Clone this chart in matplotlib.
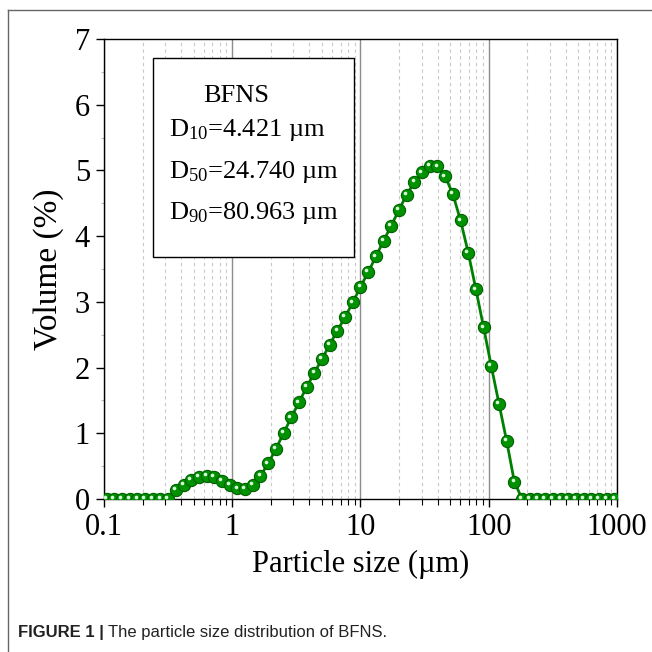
import numpy as np
import matplotlib.pyplot as plt
import matplotlib as mpl
from matplotlib import ticker, transforms
from matplotlib.lines import Line2D

mpl.rcParams["font.family"] = "serif"
mpl.rcParams["font.serif"] = ["Liberation Serif", "DejaVu Serif"]
mpl.rcParams["mathtext.fontset"] = "custom"
mpl.rcParams["mathtext.rm"] = "Liberation Serif"
mpl.rcParams["mathtext.it"] = "Liberation Serif:italic"

# particle size bins (µm) and volume fraction (%)
size_um = [0.1047, 0.1202, 0.1380, 0.1585, 0.1820, 0.2089, 0.2399, 0.2754, 0.3162,
           0.3631, 0.4169, 0.4786, 0.5495, 0.6310, 0.7244, 0.8318, 0.9550,
           1.096, 1.259, 1.445, 1.660, 1.905, 2.188, 2.512, 2.884, 3.311, 3.802,
           4.365, 5.012, 5.754, 6.607, 7.586, 8.710, 10.00, 11.48, 13.18, 15.14,
           17.38, 19.95, 22.91, 26.30, 30.20, 34.67, 39.81, 45.71, 52.48, 60.26,
           69.18, 79.43, 91.20, 104.7, 120.2, 138.0, 158.5, 182.0, 208.9, 239.9,
           275.4, 316.2, 363.1, 416.9, 478.6, 549.5, 631.0, 724.4, 831.8, 955.0]
volume = [0, 0, 0, 0, 0, 0, 0, 0, 0,
          0.14, 0.22, 0.29, 0.34, 0.355, 0.33, 0.27, 0.21,
          0.16, 0.15, 0.21, 0.35, 0.54, 0.76, 1.00, 1.24, 1.47, 1.70,
          1.92, 2.13, 2.35, 2.56, 2.77, 2.99, 3.23, 3.45, 3.69, 3.93,
          4.16, 4.40, 4.63, 4.82, 4.97, 5.07, 5.06, 4.91, 4.64, 4.24,
          3.75, 3.19, 2.61, 2.02, 1.45, 0.88, 0.26, 0, 0, 0,
          0, 0, 0, 0, 0, 0, 0, 0, 0, 0]

x_ticks = [0.1, 1, 10, 100, 1000]
x_ticklabels = ["0.1", "1", "10", "100", "1000"]
y_ticks = [0, 1, 2, 3, 4, 5, 6, 7]

fig = plt.figure(figsize=(6.52, 6.52), dpi=100)
ax = fig.add_axes([0.1595, 0.2347, 0.7868, 0.7055])

ax.plot(size_um, volume, color="#008000", lw=2.0, zorder=3,
        marker="o", ms=8.8, mfc="#009200", mec="#005f00", mew=0.8)
# little highlight on each ball
hl = transforms.offset_copy(ax.transData, fig=fig, x=-1.3, y=1.3, units="points")
ax.plot(size_um, volume, ls="none", marker="o", ms=2.6, mfc="#d9f7d9",
        mec="none", transform=hl, zorder=4)

ax.set_xscale("log")
ax.set_xlim(0.1, 1000)
ax.set_ylim(0, 7)
ax.set_xticks(x_ticks)
ax.set_xticklabels(x_ticklabels)
ax.xaxis.set_minor_locator(ticker.LogLocator(base=10, subs=np.arange(2, 10), numticks=20))
ax.xaxis.set_minor_formatter(ticker.NullFormatter())
ax.set_yticks(y_ticks)
ax.yaxis.set_minor_locator(ticker.MultipleLocator(0.5))

ax.grid(which="major", axis="x", color="#8c8c8c", lw=1.0, ls="-", zorder=0)
ax.grid(which="minor", axis="x", color="#c8c8c8", lw=0.8, ls=(0, (3, 3)), zorder=0)

ax.tick_params(which="major", direction="out", length=6, width=1, labelsize=22, pad=4)
ax.tick_params(which="minor", direction="out", length=4, width=0.8)
ax.tick_params(axis="y", which="minor", length=2, color="#bbbbbb")
for s in ax.spines.values():
    s.set_linewidth(1.0)

ax.set_xlabel("Particle size (µm)", fontsize=22, labelpad=6)
ax.set_ylabel("Volume (%)", fontsize=24, labelpad=8)

ax.text(0.258, 0.876, "BFNS", transform=ax.transAxes, fontsize=19, ha="center", va="center")
ax.text(0.126, 0.802, r"D$_{10}$=4.421 µm", transform=ax.transAxes, fontsize=19, va="center")
ax.text(0.126, 0.711, r"D$_{50}$=24.740 µm", transform=ax.transAxes, fontsize=19, va="center")
ax.text(0.126, 0.622, r"D$_{90}$=80.963 µm", transform=ax.transAxes, fontsize=19, va="center")
box = plt.Rectangle((0.095, 0.526), 0.392, 0.433, transform=ax.transAxes,
                    fill=True, fc="white", ec="black", lw=1.0, zorder=5)
ax.add_patch(box)
for t in ax.texts:
    t.set_zorder(6)

# page frame lines
fig.add_artist(Line2D([8 / 652, 1], [1 - 10 / 652, 1 - 10 / 652], color="#666666", lw=1.0))
fig.add_artist(Line2D([8 / 652, 8 / 652], [0, 1 - 10 / 652], color="#666666", lw=1.0))

cap_font = ["Liberation Sans Narrow", "Liberation Sans", "DejaVu Sans"]
t1 = fig.text(18 / 652, 1 - 632 / 652, "FIGURE 1 |", family=cap_font, weight="bold",
              fontsize=12, va="center", ha="left", color="#222222")
fig.canvas.draw()
bb = t1.get_window_extent()
fig.text(bb.x1 / fig.bbox.width + 4 / 652, 1 - 632 / 652, "The particle size distribution of BFNS.",
         family=cap_font, fontsize=12, va="center", ha="left", color="#222222")

fig.savefig("out.png", dpi=100)
